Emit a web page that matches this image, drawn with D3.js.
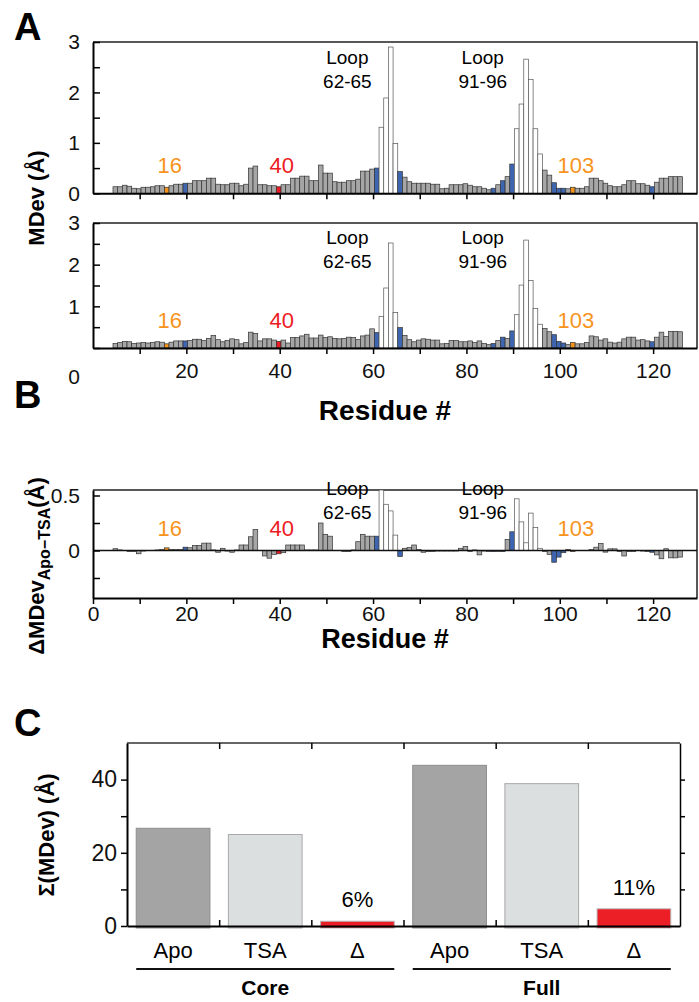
<!DOCTYPE html>
<html>
<head>
<meta charset="utf-8">
<script src="https://cdn.jsdelivr.net/npm/d3@7"></script>
<style>
body { margin: 0; background: #fff; }
text { font-family: Arial, "Liberation Sans", sans-serif; }
</style>
</head>
<body>
<svg id="fig" width="699" height="1002"></svg>
<script>
// residue numbers
const residues = [
	5, 6, 7, 8, 9, 10, 11, 12, 13, 14,
	15, 16, 17, 18, 19, 20, 21, 22, 23, 24,
	25, 26, 27, 28, 29, 30, 31, 32, 33, 34,
	35, 36, 37, 38, 39, 40, 41, 42, 43, 44,
	45, 46, 47, 48, 49, 50, 51, 52, 53, 54,
	55, 56, 57, 58, 59, 60, 61, 62, 63, 64,
	65, 66, 67, 68, 69, 70, 71, 72, 73, 74,
	75, 76, 77, 78, 79, 80, 81, 82, 83, 84,
	85, 86, 87, 88, 89, 90, 91, 92, 93, 94,
	95, 96, 97, 98, 99, 100, 101, 102, 103, 104,
	105, 106, 107, 108, 109, 110, 111, 112, 113, 114,
	115, 116, 117, 118, 119, 120, 121, 122, 123, 124,
	125, 126
];

// MDev apo (A, top)
const apoMDev = [
	0.13, 0.13, 0.16, 0.14, 0.10, 0.09, 0.12, 0.12, 0.13, 0.15,
	0.15, 0.12, 0.15, 0.18, 0.18, 0.20, 0.20, 0.25, 0.25, 0.25,
	0.30, 0.30, 0.18, 0.17, 0.17, 0.20, 0.20, 0.15, 0.18, 0.50,
	0.54, 0.17, 0.17, 0.15, 0.15, 0.13, 0.17, 0.17, 0.30, 0.30,
	0.34, 0.34, 0.25, 0.25, 0.56, 0.40, 0.40, 0.23, 0.22, 0.22,
	0.25, 0.25, 0.28, 0.44, 0.44, 0.48, 0.50, 1.31, 1.89, 2.90,
	0.99, 0.43, 0.32, 0.23, 0.20, 0.20, 0.20, 0.20, 0.18, 0.18,
	0.09, 0.10, 0.17, 0.17, 0.17, 0.19, 0.16, 0.13, 0.13, 0.10,
	0.07, 0.10, 0.17, 0.25, 0.33, 0.58, 1.28, 1.77, 2.66, 2.26,
	1.28, 0.78, 0.46, 0.36, 0.21, 0.10, 0.10, 0.09, 0.12, 0.10,
	0.10, 0.13, 0.30, 0.30, 0.25, 0.20, 0.15, 0.13, 0.13, 0.17,
	0.25, 0.25, 0.19, 0.19, 0.16, 0.13, 0.22, 0.30, 0.30, 0.33,
	0.33, 0.33
];

// MDev TSA (A, bottom)
const tsaMDev = [
	0.11, 0.13, 0.16, 0.15, 0.11, 0.12, 0.13, 0.12, 0.13, 0.15,
	0.14, 0.10, 0.14, 0.17, 0.17, 0.17, 0.18, 0.21, 0.21, 0.18,
	0.23, 0.30, 0.20, 0.15, 0.18, 0.22, 0.20, 0.10, 0.13, 0.38,
	0.35, 0.17, 0.22, 0.22, 0.19, 0.16, 0.19, 0.12, 0.25, 0.25,
	0.29, 0.33, 0.24, 0.24, 0.31, 0.25, 0.27, 0.23, 0.22, 0.23,
	0.26, 0.25, 0.20, 0.29, 0.31, 0.46, 0.37, 0.76, 1.44, 2.52,
	0.85, 0.49, 0.30, 0.20, 0.15, 0.19, 0.22, 0.21, 0.19, 0.19,
	0.10, 0.11, 0.18, 0.18, 0.15, 0.15, 0.17, 0.13, 0.17, 0.11,
	0.08, 0.11, 0.18, 0.26, 0.23, 0.41, 0.80, 1.51, 2.59, 1.62,
	0.95, 0.57, 0.47, 0.39, 0.32, 0.16, 0.12, 0.08, 0.13, 0.10,
	0.10, 0.13, 0.29, 0.27, 0.19, 0.22, 0.14, 0.12, 0.14, 0.22,
	0.26, 0.26, 0.19, 0.20, 0.17, 0.15, 0.26, 0.38, 0.28, 0.40,
	0.40, 0.39
];

// delta MDev apo - TSA (B)
const deltaMDev = [
	0.016, 0.005, 0.0, -0.01, -0.01, -0.03, -0.005, 0.0, 0.0, 0.005,
	0.01, 0.024, 0.01, 0.01, 0.01, 0.03, 0.025, 0.045, 0.045, 0.067,
	0.067, 0.005, -0.016, 0.02, -0.005, -0.016, 0.005, 0.05, 0.05, 0.125,
	0.19, 0.0, -0.05, -0.07, -0.035, -0.03, -0.02, 0.05, 0.05, 0.05,
	0.05, 0.005, 0.005, 0.005, 0.25, 0.147, 0.13, 0.0, 0.0, -0.01,
	-0.01, 0.005, 0.08, 0.147, 0.13, 0.13, 0.13, 0.55, 0.42, 0.36,
	0.14, -0.055, 0.02, 0.027, 0.05, 0.01, -0.016, -0.01, -0.01, -0.005,
	-0.005, -0.005, -0.005, -0.005, 0.02, 0.037, -0.01, 0.005, -0.04, -0.005,
	-0.01, -0.01, -0.01, -0.01, 0.10, 0.17, 0.47, 0.26, 0.07, 0.34,
	0.21, 0.02, -0.01, -0.035, -0.107, -0.06, -0.02, 0.01, -0.01, 0.0,
	0.0, 0.0, 0.01, 0.03, 0.065, -0.015, 0.015, 0.015, -0.01, -0.05,
	-0.01, -0.01, 0.0, -0.005, -0.01, -0.016, -0.04, -0.075, 0.016, -0.067,
	-0.067, -0.06
];

const orangeResidues = [16, 103];
const redResidues = [40];
const blueResidues = [20, 61, 66, 86, 88, 90, 99, 100, 101, 120];
const loopResidues = [62, 63, 64, 65, 91, 92, 93, 94, 95, 96];

const markLabels = [
	{ text: '16', res: 16, color: 'orange' },
	{ text: '40', res: 40, color: 'red' },
	{ text: '103', res: 103, color: 'orange' }
];
const loopLabels = [
	{ lines: ['Loop', '62-65'], res: 54.5 },
	{ lines: ['Loop', '91-96'], res: 83.5 }
];

// panel C
const sumGroups = ['Core', 'Full'];
const sumKinds = ['Apo', 'TSA', '\u0394'];
const coreSums = [26.7, 25.0, 1.3];
const fullSums = [43.9, 38.9, 4.7];
const sumPercents = ['6%', '11%'];

const GRAY = '#a6a6a6';
const BLUE = '#3e66b0';
const ORANGE = '#f7941d';
const RED = '#ed1c24';
const LABEL_COLORS = { orange: '#f7941d', red: '#ed1c24' };

const X_LEFT = 93;
const X_RIGHT = 697;
const SUB1_TOP = 42, SUB1_BOT = 193.3;
const SUB2_TOP = 223, SUB2_BOT = 348;
const B_TOP = 490, B_BOT = 598;
const TICK_FONT = '21px';

let svg = d3.select('#fig');

let xRes = d3.scaleLinear().domain([0, 129.4]).range([X_LEFT, X_RIGHT]);
let barW = xRes(1) - xRes(0);

function residueFill(r) {
	if (orangeResidues.includes(r)) return ORANGE;
	if (redResidues.includes(r)) return RED;
	if (blueResidues.includes(r)) return BLUE;
	if (loopResidues.includes(r)) return '#fff';
	return GRAY;
}

function styleAxis(g) {
	g.select('.domain').attr('stroke-width', 2);
	g.selectAll('.tick line').attr('stroke-width', 1.5);
	g.selectAll('.tick text')
		.style('font-size', TICK_FONT)
		.attr('fill', '#111')
		;
}

function drawFrame(top, bot) {
	svg.append('path')
		.attr('d', 'M' + X_LEFT + ',' + top + 'H' + X_RIGHT + 'V' + bot)
		.attr('fill', 'none')
		.attr('stroke', '#222')
		.attr('stroke-width', 1.5)
		;
}

function drawBars(values, y) {
	let g = svg.append('g');
	g.selectAll('rect')
		.data(values.map((v, i) => ({ r: residues[i], v: v })))
		.join('rect')
		.attr('x', d => xRes(d.r - 0.5) - 1)
		.attr('width', barW)
		.attr('y', d => y(Math.max(0, d.v)))
		.attr('height', d => Math.abs(y(d.v) - y(0)))
		.attr('fill', d => residueFill(d.r))
		.attr('stroke', d => loopResidues.includes(d.r) ? '#555' : '#333')
		.attr('stroke-width', 0.7)
		;
}

function drawLabels(y, loopY) {
	markLabels.forEach(m => {
		svg.append('text')
			.text(m.text)
			.attr('x', xRes(m.res) + 2)
			.attr('y', y)
			.attr('text-anchor', 'middle')
			.attr('fill', LABEL_COLORS[m.color])
			.style('font-size', '22px')
			;
	});
	loopLabels.forEach(l => {
		svg.append('text')
			.text(l.lines[0])
			.attr('x', xRes(l.res))
			.attr('y', loopY)
			.attr('text-anchor', 'middle')
			.style('font-size', '19px')
			;
		svg.append('text')
			.text(l.lines[1])
			.attr('x', xRes(l.res))
			.attr('y', loopY + 24)
			.attr('text-anchor', 'middle')
			.style('font-size', '19px')
			;
	});
}

// ---------- Panel A, apo
let yApo = d3.scaleLinear().domain([0, 3]).range([SUB1_BOT, SUB1_TOP]);
drawFrame(SUB1_TOP, SUB1_BOT);
drawBars(apoMDev, yApo);
drawLabels(173, 64);

svg.append('g')
	.attr('transform', 'translate(' + X_LEFT + ',0)')
	.call(d3.axisLeft(yApo).tickValues([0, 0.5, 1, 1.5, 2, 2.5, 3]).tickSize(-7).tickSizeOuter(0).tickPadding(13)
		.tickFormat(d => Number.isInteger(d) ? d : ''))
	.call(styleAxis)
	;
svg.append('g')
	.attr('transform', 'translate(0,' + SUB1_BOT + ')')
	.call(d3.axisBottom(xRes).tickValues([10, 20, 30, 40, 50, 60, 70, 80, 90, 100, 110, 120]).tickSize(6).tickSizeOuter(0)
		.tickFormat(''))
	.call(styleAxis)
	;

// ---------- Panel A, TSA
let yTsa = d3.scaleLinear().domain([0, 3]).range([SUB2_BOT, SUB2_TOP]);
drawFrame(SUB2_TOP, SUB2_BOT);
drawBars(tsaMDev, yTsa);
drawLabels(328, 244);

svg.append('g')
	.attr('transform', 'translate(' + X_LEFT + ',0)')
	.call(d3.axisLeft(yTsa).tickValues([0, 0.5, 1, 1.5, 2, 2.5, 3]).tickSize(-7).tickSizeOuter(0).tickPadding(13)
		.tickFormat(d => Number.isInteger(d) ? d : ''))
	.call(styleAxis)
	.call(g => g.selectAll('.tick text').filter(d => d === 0).attr('dy', '1.7em'))
	;
svg.append('g')
	.attr('transform', 'translate(0,' + SUB2_BOT + ')')
	.call(d3.axisBottom(xRes).tickValues([10, 20, 30, 40, 50, 60, 70, 80, 90, 100, 110, 120]).tickSize(6).tickSizeOuter(0)
		.tickPadding(9)
		.tickFormat(d => d % 20 === 0 ? d : ''))
	.call(styleAxis)
	;

svg.append('text')
	.text('Residue #')
	.attr('x', (X_LEFT + X_RIGHT) / 2 - 10)
	.attr('y', 420)
	.attr('text-anchor', 'middle')
	.style('font-size', '28px')
	.style('font-weight', 'bold')
	;

svg.append('text')
	.text('MDev (\u00c5)')
	.attr('transform', 'translate(44,198) rotate(-90)')
	.attr('text-anchor', 'middle')
	.style('font-size', '22px')
	.style('font-weight', 'bold')
	;

// ---------- Panel B
let yDelta = d3.scaleLinear().domain([-0.432, 0.55]).range([B_BOT, B_TOP]);
drawFrame(B_TOP, B_BOT);
drawBars(deltaMDev, yDelta);
drawLabels(536, 495);

svg.append('line')
	.attr('x1', X_LEFT)
	.attr('x2', X_RIGHT)
	.attr('y1', yDelta(0))
	.attr('y2', yDelta(0))
	.attr('stroke', '#111')
	.attr('stroke-width', 1.5)
	;

svg.append('g')
	.attr('transform', 'translate(' + X_LEFT + ',0)')
	.call(d3.axisLeft(yDelta).tickValues([-0.25, 0, 0.25, 0.5]).tickSize(-7).tickSizeOuter(0).tickPadding(13)
		.tickFormat(d => d === 0 ? '0' : d === 0.5 ? '0.5' : ''))
	.call(styleAxis)
	;
svg.append('g')
	.attr('transform', 'translate(0,' + B_BOT + ')')
	.call(d3.axisBottom(xRes).tickValues([0, 10, 20, 30, 40, 50, 60, 70, 80, 90, 100, 110, 120]).tickSize(6).tickSizeOuter(0)
		.tickPadding(2)
		.tickFormat(d => d % 20 === 0 ? d : ''))
	.call(styleAxis)
	;

svg.append('text')
	.text('Residue #')
	.attr('x', (X_LEFT + X_RIGHT) / 2 - 10)
	.attr('y', 648)
	.attr('text-anchor', 'middle')
	.style('font-size', '27px')
	.style('font-weight', 'bold')
	;

let dLabel = svg.append('text')
	.attr('transform', 'translate(44,566) rotate(-90)')
	.attr('text-anchor', 'middle')
	.style('font-size', '22px')
	.style('font-weight', 'bold')
	;
dLabel.append('tspan').text('\u0394MDev');
dLabel.append('tspan').text('Apo\u2212TSA').attr('dy', 6).style('font-size', '16px');
dLabel.append('tspan').text('(\u00c5)').attr('dy', -6);

// ---------- Panel C
const C_LEFT = 127, C_RIGHT = 680, C_TOP = 743, C_BOT = 926;
let cKeys = [];
sumGroups.forEach(g => sumKinds.forEach(k => cKeys.push(g + '|' + k)));
let cValues = coreSums.concat(fullSums);

let xC = d3.scaleBand().domain(cKeys).range([C_LEFT, C_RIGHT]).paddingInner(0.2).paddingOuter(0.1);
let yC = d3.scaleLinear().domain([0, 50]).range([C_BOT, C_TOP]);
let cColors = { 'Apo': '#a4a4a4', 'TSA': '#dcdfe0', '\u0394': '#ec1f26' };
let cStroke = { 'Apo': '#8e8e8e', 'TSA': '#a9a9a9', '\u0394': '#b8b8b8' };

svg.append('g')
	.selectAll('rect')
	.data(cKeys.map((k, i) => ({ key: k, kind: k.split('|')[1], v: cValues[i] })))
	.join('rect')
	.attr('x', d => xC(d.key))
	.attr('width', xC.bandwidth())
	.attr('y', d => yC(d.v))
	.attr('height', d => yC(0) - yC(d.v) + 2)
	.attr('fill', d => cColors[d.kind])
	.attr('stroke', d => cStroke[d.kind])
	.attr('stroke-width', 1)
	;

// percent labels over the delta bars
sumGroups.forEach((g, i) => {
	let v = (i === 0 ? coreSums : fullSums)[2];
	svg.append('text')
		.text(sumPercents[i])
		.attr('x', xC(g + '|\u0394') + xC.bandwidth() / 2)
		.attr('y', yC(v) - 14)
		.attr('text-anchor', 'middle')
		.style('font-size', '22px')
		;
});

// frame
svg.append('line')
	.attr('x1', C_LEFT).attr('x2', C_RIGHT)
	.attr('y1', C_TOP).attr('y2', C_TOP)
	.attr('stroke', '#333').attr('stroke-width', 1.5)
	;

let bandEdges = cKeys.slice(1).map(k => xC(k) - xC.step() * xC.paddingInner() / 2);
let xEdge = d3.scaleLinear().domain([C_LEFT, C_RIGHT]).range([C_LEFT, C_RIGHT]);

svg.append('g')
	.attr('transform', 'translate(0,' + C_TOP + ')')
	.call(d3.axisTop(xEdge).tickValues(bandEdges).tickSize(-6).tickSizeOuter(0).tickFormat(''))
	.call(g => g.select('.domain').remove())
	.call(g => g.selectAll('.tick line').attr('stroke-width', 1.5))
	;
svg.append('g')
	.attr('transform', 'translate(0,' + C_BOT + ')')
	.call(d3.axisBottom(xEdge).tickValues(bandEdges).tickSize(-6).tickSizeOuter(0).tickFormat(''))
	.call(g => g.select('.domain').attr('stroke-width', 2))
	.call(g => g.selectAll('.tick line').attr('stroke-width', 1.5))
	;
svg.append('g')
	.attr('transform', 'translate(' + C_LEFT + ',0)')
	.call(d3.axisLeft(yC).tickValues([0, 10, 20, 30, 40]).tickSize(6).tickSizeOuter(0).tickPadding(4)
		.tickFormat(d => d % 20 === 0 ? d : ''))
	.call(styleAxis)
	.call(g => g.selectAll('.tick text').style('font-size', '23px'))
	;
svg.append('g')
	.attr('transform', 'translate(' + C_RIGHT + ',0)')
	.call(d3.axisRight(yC).tickValues([10, 20, 30, 40]).tickSize(5).tickSizeOuter(0).tickFormat(''))
	.call(g => g.select('.domain').attr('stroke-width', 1.5))
	.call(g => g.selectAll('.tick line').attr('stroke-width', 1.5))
	;

// category labels and group underlines
cKeys.forEach(k => {
	svg.append('text')
		.text(k.split('|')[1])
		.attr('x', xC(k) + xC.bandwidth() / 2)
		.attr('y', 958)
		.attr('text-anchor', 'middle')
		.style('font-size', '22px')
		;
});
sumGroups.forEach(g => {
	let x0 = xC(g + '|Apo');
	let x1 = xC(g + '|\u0394') + xC.bandwidth();
	svg.append('line')
		.attr('x1', x0).attr('x2', x1)
		.attr('y1', 969).attr('y2', 969)
		.attr('stroke', '#111').attr('stroke-width', 2)
		;
	svg.append('text')
		.text(g)
		.attr('x', (x0 + x1) / 2)
		.attr('y', 995)
		.attr('text-anchor', 'middle')
		.style('font-size', '21px')
		.style('font-weight', 'bold')
		;
});

svg.append('text')
	.text('\u03a3(MDev) (\u00c5)')
	.attr('transform', 'translate(54,835) rotate(-90)')
	.attr('text-anchor', 'middle')
	.style('font-size', '22px')
	.style('font-weight', 'bold')
	;

// panel letters
[['A', 40], ['B', 408], ['C', 736]].forEach(p => {
	svg.append('text')
		.text(p[0])
		.attr('x', 14)
		.attr('y', p[1])
		.style('font-size', '38px')
		.style('font-weight', 'bold')
		;
});
</script>
</body>
</html>
